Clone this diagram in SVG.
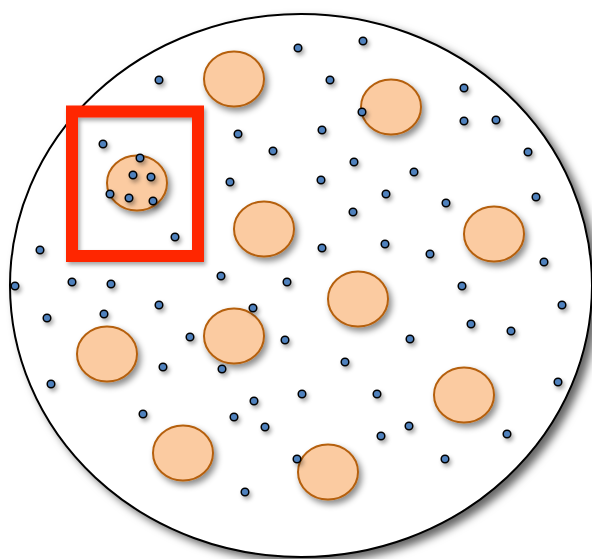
<svg xmlns="http://www.w3.org/2000/svg" width="592" height="559" viewBox="0 0 592 559">
<defs>
<filter id="sh" x="-20%" y="-20%" width="150%" height="150%">
<feDropShadow dx="3" dy="4" stdDeviation="3" flood-color="#000" flood-opacity="0.45"/>
</filter>
<filter id="shs" x="-50%" y="-50%" width="250%" height="250%">
<feDropShadow dx="2" dy="3" stdDeviation="2" flood-color="#000" flood-opacity="0.35"/>
</filter>
<filter id="shb" x="-10%" y="-10%" width="125%" height="125%">
<feDropShadow dx="6" dy="5" stdDeviation="4" flood-color="#000" flood-opacity="0.6"/>
</filter>
</defs>
<style>
.cell{fill:#fbcba1;stroke:#b5600f;stroke-width:2;filter:url(#sh)}
.d{fill:#4f81bd;stroke:#000;stroke-width:1.5;filter:url(#shs)}
</style>
<rect width="592" height="559" fill="#fff"/>
<g id="boundary">
<ellipse cx="301" cy="285.5" rx="291" ry="271.5" fill="#fff" stroke="#000" stroke-width="2" filter="url(#shb)"/>
</g>
<g id="cells">
<ellipse class="cell" cx="234" cy="79" rx="30" ry="27.5"/>
<ellipse class="cell" cx="391" cy="107" rx="30" ry="27.5"/>
<ellipse class="cell" cx="137" cy="183" rx="30" ry="27.5"/>
<ellipse class="cell" cx="264" cy="229" rx="30" ry="27.5"/>
<ellipse class="cell" cx="494" cy="234" rx="30" ry="27.5"/>
<ellipse class="cell" cx="358" cy="299" rx="30" ry="27.5"/>
<ellipse class="cell" cx="234" cy="336" rx="30" ry="27.5"/>
<ellipse class="cell" cx="107" cy="354" rx="30" ry="27.5"/>
<ellipse class="cell" cx="464" cy="395" rx="30" ry="27.5"/>
<ellipse class="cell" cx="183" cy="453" rx="30" ry="27.5"/>
<ellipse class="cell" cx="328" cy="472" rx="30" ry="27.5"/>
</g>
<g id="dots">
<circle class="d" cx="298" cy="48" r="3.8"/>
<circle class="d" cx="363" cy="41" r="3.8"/>
<circle class="d" cx="159" cy="80" r="3.8"/>
<circle class="d" cx="330" cy="80" r="3.8"/>
<circle class="d" cx="464" cy="88" r="3.8"/>
<circle class="d" cx="362" cy="112" r="3.8"/>
<circle class="d" cx="464" cy="121" r="3.8"/>
<circle class="d" cx="496" cy="120" r="3.8"/>
<circle class="d" cx="322" cy="130" r="3.8"/>
<circle class="d" cx="238" cy="134" r="3.8"/>
<circle class="d" cx="103" cy="144" r="3.8"/>
<circle class="d" cx="273" cy="151" r="3.8"/>
<circle class="d" cx="528" cy="152" r="3.8"/>
<circle class="d" cx="140" cy="158" r="3.8"/>
<circle class="d" cx="354" cy="162" r="3.8"/>
<circle class="d" cx="414" cy="172" r="3.8"/>
<circle class="d" cx="133" cy="175" r="3.8"/>
<circle class="d" cx="151" cy="177" r="3.8"/>
<circle class="d" cx="321" cy="180" r="3.8"/>
<circle class="d" cx="230" cy="182" r="3.8"/>
<circle class="d" cx="110" cy="194" r="3.8"/>
<circle class="d" cx="386" cy="194" r="3.8"/>
<circle class="d" cx="536" cy="197" r="3.8"/>
<circle class="d" cx="129" cy="198" r="3.8"/>
<circle class="d" cx="153" cy="201" r="3.8"/>
<circle class="d" cx="446" cy="203" r="3.8"/>
<circle class="d" cx="353" cy="212" r="3.8"/>
<circle class="d" cx="175" cy="237" r="3.8"/>
<circle class="d" cx="385" cy="244" r="3.8"/>
<circle class="d" cx="322" cy="248" r="3.8"/>
<circle class="d" cx="40" cy="250" r="3.8"/>
<circle class="d" cx="430" cy="254" r="3.8"/>
<circle class="d" cx="544" cy="262" r="3.8"/>
<circle class="d" cx="221" cy="276" r="3.8"/>
<circle class="d" cx="72" cy="282" r="3.8"/>
<circle class="d" cx="287" cy="282" r="3.8"/>
<circle class="d" cx="111" cy="284" r="3.8"/>
<circle class="d" cx="15" cy="286" r="3.8"/>
<circle class="d" cx="462" cy="286" r="3.8"/>
<circle class="d" cx="159" cy="305" r="3.8"/>
<circle class="d" cx="562" cy="305" r="3.8"/>
<circle class="d" cx="253" cy="308" r="3.8"/>
<circle class="d" cx="104" cy="314" r="3.8"/>
<circle class="d" cx="47" cy="318" r="3.8"/>
<circle class="d" cx="471" cy="324" r="3.8"/>
<circle class="d" cx="511" cy="331" r="3.8"/>
<circle class="d" cx="190" cy="337" r="3.8"/>
<circle class="d" cx="410" cy="339" r="3.8"/>
<circle class="d" cx="285" cy="340" r="3.8"/>
<circle class="d" cx="345" cy="362" r="3.8"/>
<circle class="d" cx="163" cy="367" r="3.8"/>
<circle class="d" cx="222" cy="369" r="3.8"/>
<circle class="d" cx="558" cy="382" r="3.8"/>
<circle class="d" cx="51" cy="384" r="3.8"/>
<circle class="d" cx="302" cy="394" r="3.8"/>
<circle class="d" cx="377" cy="394" r="3.8"/>
<circle class="d" cx="254" cy="401" r="3.8"/>
<circle class="d" cx="143" cy="414" r="3.8"/>
<circle class="d" cx="234" cy="417" r="3.8"/>
<circle class="d" cx="409" cy="426" r="3.8"/>
<circle class="d" cx="265" cy="427" r="3.8"/>
<circle class="d" cx="507" cy="434" r="3.8"/>
<circle class="d" cx="381" cy="436" r="3.8"/>
<circle class="d" cx="297" cy="459" r="3.8"/>
<circle class="d" cx="445" cy="459" r="3.8"/>
<circle class="d" cx="245" cy="492" r="3.8"/>
</g>
<g id="highlight">
<rect x="72" y="111.5" width="126" height="144.5" fill="none" stroke="#ff2600" stroke-width="12" filter="url(#shs)"/>
</g>
</svg>
